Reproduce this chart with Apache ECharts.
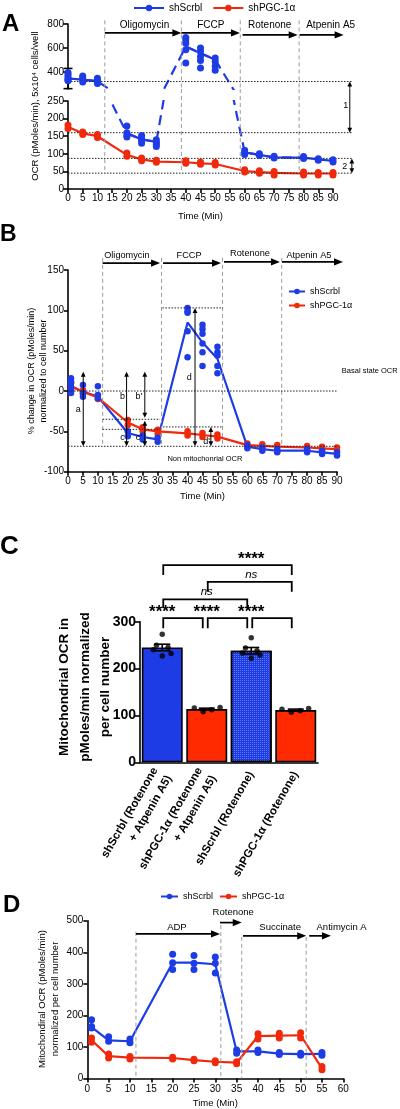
<!DOCTYPE html>
<html><head><meta charset="utf-8">
<script src="https://cdn.jsdelivr.net/npm/echarts@6/dist/echarts.min.js"></script>
<style>html,body{margin:0;padding:0;background:#fff}#c{width:400px;height:1109px}</style>
</head><body><div id="c"></div>
<script>
const FONT = '"Liberation Sans", Arial, Helvetica, sans-serif';
const BLUE = '#1d3ce6';
const RED = '#f0290d';
const NAMES = ['shScrbl', 'shPGC-1α'];

// ---------- Panel A : raw OCR (broken axis) ----------
const timesA = [0,5,10,20,25,30,40,45,50,60,65,70,80,85,90];
const blueA  = [347,338,325,158,141,134,613,558,503,104,97,90,89,84,80];
const redA   = [177,158,150,97,84,78,76,73,71,51,48,46,44,44,44];
const blueRepA = [[398,380,362,345,335,328],[368,352,338,318],[350,332,318,305],[179,160,152,148],[152,145,138,130],[140,133,127,121],[687,668,641,586,476],[600,572,530,497,435],[517,489,448,415],[110,102,98],[100,95],[93,88],[92,87],[86,82],[83,77]];
const redRepA  = [[182,172],[162,155],[155,146],[102,93],[88,80],[82,76],[80,73],[77,70],[75,68],[55,48],[52,45],[50,40],[48,40],[47,40],[47,40]];
const blueErrA0 = [263, 431];          // error bar of first blue point (t = 0)
const A_TOP_MIN = 260, A_TOP_MAX = 800, A_BOT_MAX = 250;
const ticksAtop = [400, 600, 800];

// ---------- Panel B : % change ----------
const timesB = [1,5,10,20,25,30,40,45,50,60,65,70,80,85,90];
const blueB  = [6,-1,-7,-52,-57,-60,85,60,40,-69,-72,-74,-74,-76,-78];
const redB   = [6,-1,-8,-39,-47.5,-50,-52.5,-54.5,-56.5,-67,-68,-69,-70,-71,-72];
const blueRepB = [[15.7,12,10,5,1,-2.5],[7.5,-2.5,-7],[6,-5,-9],[-50,-56],[-55,-60],[-58,-63],[103,99,97,74,42],[82,77,71,59,48,31],[55,48,44,31,22],[-67,-71],[-70,-74],[-72,-76],[-72,-76],[-74,-78],[-76,-80]];
const redRepB  = [[10,3],[1,-3],[-6,-10],[-36,-42],[-45,-50],[-48,-53],[-50,-55],[-52,-57],[-54,-59],[-65,-69],[-66,-70],[-67,-75],[-68,-72],[-69,-73],[-70,-74]];

// ---------- Panel C : bars ----------
const catsC  = ['shScrbl (Rotenone\n+ Atpenin A5)', 'shPGC-1α (Rotenone\n+ Atpenin A5)', 'shScrbl (Rotenone)', 'shPGC-1α (Rotenone)'];
const meansC = [245, 113.5, 238, 111.5];
const semC   = [7, 2, 7, 2];
const ptsC   = [[273,250,245,240,232,227],[116,108,112,117],[266,244,238,233,229,222],[113,107,110,115]];
const jitC   = [[0,-0.13,0.13,-0.2,0.2,0],[-0.28,-0.08,0.11,0.3],[0,-0.13,0.13,-0.2,0.2,0],[-0.31,-0.1,0.1,0.29]];
const sigC   = [[0,1,'****'],[1,2,'****'],[2,3,'****'],[0,2,'ns'],[1,3,'ns'],[0,3,'****']];

// ---------- Panel D ----------
const timesD = [1,5,10,20,25,30,35,40,45,50,55];
const blueD  = [163,121,118,367,367,362,86,86,79,77,78];
const redD   = [121,71,66,65,58,53,50,134,136,137,32];
const blueRepD = [[186,165,160],[132,118],[125,113],[394,367,345],[390,365,345],[385,365,334],[90,80],[90,82],[82,76],[80,74],[82,74]];
const redRepD  = [[128,115],[78,65],[70,62],[67,62],[61,56],[56,50],[53,47],[142,125],[143,128],[145,128],[38,28]];

// ---------- helpers ----------
const pairs = (ts, vs, f) => ts.map((t, i) => [t, f ? f(vs[i]) : vs[i]]);
const reps = (ts, rs, f) => ts.flatMap((t, i) => rs[i].filter(v => !f || f(v)).map(v => [t, v]));

function headPoly(tip, ux, uy, L, W) {
  const px = -uy, py = ux;
  return {type:'polygon', shape:{points:[[tip[0],tip[1]],[tip[0]-ux*L+px*W, tip[1]-uy*L+py*W],[tip[0]-ux*L-px*W, tip[1]-uy*L-py*W]]}, style:{fill:'#000'}};
}
function renderAnn(items, api) {
  const ch = [];
  items.forEach(it => {
    const k = it[0];
    if (k === 'vd') {
      const a = api.coord([it[1], it[2]]), b = api.coord([it[1], it[3]]);
      ch.push({type:'line', shape:{x1:a[0],y1:a[1],x2:b[0],y2:b[1]}, style:{stroke:'#9c9c9c', lineWidth:1, lineDash:[4,3]}});
    } else if (k === 'hd') {
      const a = api.coord([it[2], it[1]]), b = api.coord([it[3], it[1]]);
      ch.push({type:'line', shape:{x1:a[0],y1:a[1],x2:b[0],y2:b[1]}, style:{stroke:'#222', lineWidth:1, lineDash:[1.5,1.5]}});
    } else if (k === 'ar') {
      const a = api.coord([it[1], it[2]]), b = api.coord([it[3], it[4]]);
      const big = it[6] !== 's';
      const L = big ? 9 : 5, W = big ? 3.6 : 2.4, lw = big ? 1.7 : 1;
      const dx = b[0]-a[0], dy = b[1]-a[1], len = Math.hypot(dx, dy), ux = dx/len, uy = dy/len;
      let s = a.slice(), e = b.slice();
      if (it[5] === 'e' || it[5] === 'b') { ch.push(headPoly(b, ux, uy, L, W)); e = [b[0]-ux*L*0.8, b[1]-uy*L*0.8]; }
      if (it[5] === 's' || it[5] === 'b') { ch.push(headPoly(a, -ux, -uy, L, W)); s = [a[0]+ux*L*0.8, a[1]+uy*L*0.8]; }
      ch.push({type:'line', shape:{x1:s[0],y1:s[1],x2:e[0],y2:e[1]}, style:{stroke:'#000', lineWidth:lw}});
    } else if (k === 'tx') {
      const p = api.coord([it[1], it[2]]);
      ch.push({type:'text', x:p[0], y:p[1], style:{text:it[3], fontSize:it[4], fontFamily:FONT, fill:'#000', align:it[5]||'center', verticalAlign:'middle', fontStyle:it[6]||'normal', fontWeight:it[7]||'normal'}});
    } else if (k === 'br') {
      const a1 = api.coord([it[1], it[4]]), a2 = api.coord([it[1], it[3]]), b2 = api.coord([it[2], it[3]]), b1 = api.coord([it[2], it[4]]);
      ch.push({type:'polyline', shape:{points:[[a1[0]+1,a1[1]],[a2[0]+1,a2[1]],[b2[0]-4,b2[1]],[b1[0]-4,b1[1]]]}, style:{stroke:'#000', lineWidth:1.8, fill:null}});
    } else if (k === 'eb') {
      const lo = api.coord([it[1], it[2]]), hi = api.coord([it[1], it[3]]), c = it[4], col = it[5] || '#000';
      ch.push({type:'line', shape:{x1:lo[0],y1:lo[1],x2:hi[0],y2:hi[1]}, style:{stroke:col, lineWidth:1.6}});
      ch.push({type:'line', shape:{x1:lo[0]-c,y1:lo[1],x2:lo[0]+c,y2:lo[1]}, style:{stroke:col, lineWidth:1.6}});
      ch.push({type:'line', shape:{x1:hi[0]-c,y1:hi[1],x2:hi[0]+c,y2:hi[1]}, style:{stroke:col, lineWidth:1.6}});
    }
  });
  return {type:'group', children: ch};
}
function annSeries(xi, yi, items, z) {
  return {type:'custom', xAxisIndex:xi, yAxisIndex:yi, silent:true, z:z||3, clip:false,
          data:[[0,0]], renderItem:(p, api) => renderAnn(items, api)};
}
function axisBase(fs, bold, margin, tickLen) {
  return {
    axisLine:{show:true, onZero:false, lineStyle:{color:'#000', width:1.6}},
    axisTick:{show:true, length:tickLen||4, lineStyle:{color:'#000', width:1.6}},
    axisLabel:{color:'#000', fontSize:fs, fontWeight:bold?'bold':'normal', margin:margin, fontFamily:FONT},
    splitLine:{show:false}
  };
}
function timeAxis(grid, max, nameGap, margin) {
  const b = axisBase(10, false, margin, 4);
  return Object.assign({gridIndex:grid, type:'value', min:0, max:max, interval:5,
    name:'Time (Min)', nameLocation:'middle', nameGap:nameGap,
    nameTextStyle:{color:'#000', fontSize:9.5, fontFamily:FONT}}, b);
}
function lineS(name, xi, yi, data, color, extra) {
  return Object.assign({type:'line', name:name, xAxisIndex:xi, yAxisIndex:yi, data:data,
    symbol:'circle', symbolSize:7, showSymbol:false, color:color,
    lineStyle:{color:color, width:2.2}, itemStyle:{color:color}, z:2, silent:true}, extra||{});
}
function ptsS(xi, yi, data, color, size) {
  return {type:'scatter', name:'_pts', xAxisIndex:xi, yAxisIndex:yi, data:data, symbol:'circle',
    symbolSize:size||7, itemStyle:{color:color, opacity:1}, z:4, silent:true};
}

// ---------- annotations (in data units of each panel) ----------
const drugA = [12.5, 38.5, 58.5, 78.5];
const annAtop = [
  ...drugA.map(x => ['vd', x, 830, A_TOP_MIN]),
  ['hd', 322, 0, 96.4],
  ['ar', 12.5, 726, 38.5, 726, 'e'], ['ar', 38.5, 726, 58.4, 726, 'e'],
  ['ar', 59.3, 709, 78.0, 709, 'e'], ['ar', 78.7, 709, 93.6, 709, 'e'],
  ['tx', 26, 792, 'Oligomycin', 10], ['tx', 48.5, 792, 'FCCP', 10],
  ['tx', 68.5, 792, 'Rotenone', 10], ['tx', 89.2, 792, 'Atpenin A5', 10],
  ['ar', 95.7, 262, 95.7, 322, 'e', 's'],
  ['eb', 0, blueErrA0[0], blueErrA0[1], 4.5, '#000']
];
const annAbot = [
  ...drugA.map(x => ['vd', x, 284, 45]),
  ['hd', 160, 0, 96.4], ['hd', 87, 0, 96.4], ['hd', 45, 0, 96.4],
  ['ar', 95.7, 284, 95.7, 160, 'e', 's'],
  ['ar', 96.4, 87, 96.4, 45, 'b', 's'],
  ['tx', 94.3, 236, '1', 9], ['tx', 94.0, 62.5, '2', 9]
];
const annB = [
  ...[11.6, 31.3, 51.7, 71.5].map(x => ['vd', x, 165, -68.5]),
  ['ar', 11.6, 158.6, 30.8, 158.6, 'e'], ['ar', 31.8, 158.6, 51.2, 158.6, 'e'],
  ['ar', 52.2, 160, 70.9, 160, 'e'], ['ar', 71.6, 160, 92, 160, 'e'],
  ['tx', 19.7, 168.5, 'Oligomycin', 9.2], ['tx', 40.5, 168.5, 'FCCP', 9.2],
  ['tx', 60.9, 171, 'Rotenone', 9.2], ['tx', 80.6, 168.5, 'Atpenin A5', 9.2],
  ['hd', 0, 0, 90], ['hd', -68.5, 0, 90], ['hd', 103, 31.6, 51.9],
  ['hd', -35, 11.6, 30.8], ['hd', -47.5, 11.6, 30.8], ['hd', -44.5, 31.8, 51.9],
  ['ar', 5.1, 24, 5.1, -68.5, 'b', 's'],
  ['ar', 19.6, 24, 19.6, -68.5, 'b', 's'],
  ['ar', 25.7, 24, 25.7, -33, 'b', 's'],
  ['ar', 25.7, -37, 25.7, -68.5, 'b', 's'],
  ['ar', 42.5, 103, 42.5, -68.5, 'b', 's'],
  ['ar', 47.8, -44.5, 47.8, -68.5, 'b', 's'],
  ['tx', 3.4, -23.5, 'a', 9], ['tx', 18.2, -7, 'b', 9], ['tx', 23.7, -7, "b'", 9],
  ['tx', 18.2, -57.4, 'c', 9], ['tx', 23.7, -57.4, "c'", 9],
  ['tx', 40.6, 16.5, 'd', 9], ['tx', 46.4, -62.8, "d'", 9],
  ['tx', 91.6, 25, 'Basal state OCR', 7.5, 'left'],
  ['tx', 45.8, -84, 'Non mitochonrial OCR', 7.5]
];
const annC = [
  [0,1,307.7,286,0.47,321], [1,2,307.7,286,1.41,321], [2,3,307.7,286,2.42,321],
  [0,2,347.5,329,0.85,364], [1,3,385,364,2.04,399.4], [0,3,420.7,399.4,1.52,435.6]
].flatMap((b, k) => [
  ['br', b[0], b[1], b[2], b[3]],
  sigC[k][2] === 'ns' ? ['tx', b[4], b[5], 'ns', 11.5, 'center', 'italic'] : ['tx', b[4], b[5]-2, sigC[k][2], 17, 'center', 'normal', 'bold']
]);
const errC = meansC.map((m, i) => ['eb', i, m - semC[i], m + semC[i], 8, '#000']);
const annD = [
  ['vd', 11.4, 465, 0], ['vd', 31.3, 486, 0], ['vd', 36.2, 449, 0], ['vd', 51.3, 449, 0],
  ['ar', 11.4, 458, 31.1, 458, 'e'], ['ar', 31.1, 494, 36.2, 494, 'e'],
  ['ar', 36.5, 452, 51.3, 452, 'e'], ['ar', 52.0, 452, 57.1, 452, 'e'],
  ['tx', 21, 479, 'ADP', 9.5], ['tx', 34.2, 525, 'Rotenone', 9.5],
  ['tx', 45.2, 479, 'Succinate', 9.5], ['tx', 59.6, 479, 'Antimycin A', 9.5]
];

const chart = echarts.init(document.getElementById('c'), null, {renderer:'canvas'});
const inTop = v => v >= A_TOP_MIN ? v : '-';
const inBot = v => v < A_TOP_MIN ? v : '-';

const option = {
  animation:false,
  backgroundColor:'#fff',
  textStyle:{fontFamily:FONT},
  legend:[
    {data:NAMES, top:-2, left:128, itemWidth:30, itemHeight:8, itemGap:10, textStyle:{fontSize:10, color:'#000'}},
    {data:NAMES, orient:'vertical', top:282, left:283, itemWidth:16, itemHeight:7, itemGap:5, textStyle:{fontSize:9, color:'#000'}},
    {data:NAMES, top:887, left:155, itemWidth:17, itemHeight:7, itemGap:6, textStyle:{fontSize:9, color:'#000'}}
  ],
  grid:[
    {left:68, top:24, width:265, height:65},
    {left:68, top:101, width:265, height:88},
    {left:68, top:270, width:269, height:201.7},
    {left:140, top:621.7, width:178, height:140.6},
    {left:87.3, top:920.7, width:256, height:158.3}
  ],
  xAxis:[
    {gridIndex:0, type:'value', min:0, max:90, show:false},
    timeAxis(1, 90, 22, 4),
    timeAxis(2, 90, 20, 5),
    Object.assign({gridIndex:3, type:'category', data:catsC}, axisBase(11.5, true, 10, 4),
      {axisTick:{show:false}, axisLabel:{rotate:60, interval:0, color:'#000', fontSize:11.5, fontWeight:'bold', lineHeight:16, margin:10, fontFamily:FONT}}),
    {gridIndex:3, type:'value', min:-0.5, max:3.5, show:false},
    timeAxis(4, 60, 19.5, 6)
  ],
  yAxis:[
    Object.assign({gridIndex:0, type:'value', min:A_TOP_MIN, max:A_TOP_MAX}, axisBase(10, false, 4, 5),
      {axisTick:{show:true, length:5, customValues:ticksAtop, lineStyle:{color:'#000', width:1.6}},
       axisLabel:{color:'#000', fontSize:10, margin:4, customValues:ticksAtop, fontFamily:FONT}}),
    Object.assign({gridIndex:1, type:'value', min:0, max:A_BOT_MAX, interval:50}, axisBase(10, false, 4, 5)),
    Object.assign({gridIndex:2, type:'value', min:-100, max:150, interval:50}, axisBase(10, false, 4, 4)),
    Object.assign({gridIndex:3, type:'value', min:0, max:300, interval:100}, axisBase(14, true, 4, 6)),
    Object.assign({gridIndex:4, type:'value', min:0, max:500, interval:100}, axisBase(10, false, 4, 4))
  ],
  graphic:[
    {type:'text', left:2, top:12, style:{text:'A', font:'bold 24px '+FONT, fill:'#000'}},
    {type:'text', left:0, top:223, style:{text:'B', font:'bold 23px '+FONT, fill:'#000'}},
    {type:'text', left:0, top:534, style:{text:'C', font:'bold 26px '+FONT, fill:'#000'}},
    {type:'text', left:3, top:893, style:{text:'D', font:'bold 24px '+FONT, fill:'#000'}},
    {type:'text', x:35, y:106, rotation:Math.PI/2, style:{text:'OCR (pMoles/min), 5x10⁴ cells/well', font:'9.5px '+FONT, fill:'#000', align:'center', verticalAlign:'middle'}},
    {type:'text', x:37.5, y:371, rotation:Math.PI/2, style:{text:'% change in OCR (pMoles/min)\nnormalized to cell number', font:'9px '+FONT, lineHeight:11.6, fill:'#000', align:'center', verticalAlign:'middle'}},
    {type:'text', x:85, y:687, rotation:Math.PI/2, style:{text:'Mitochondrial OCR in\npMoles/min normalized\nper cell number', font:'bold 13.5px '+FONT, lineHeight:20.5, fill:'#000', align:'center', verticalAlign:'middle'}},
    {type:'text', x:49, y:999, rotation:Math.PI/2, style:{text:'Mitochondiral OCR (pMoles/min)\nnormalized per cell number', font:'9.5px '+FONT, lineHeight:12.3, fill:'#000', align:'center', verticalAlign:'middle'}}
  ],
  series:[
    // Panel A
    lineS(NAMES[0], 0, 0, pairs(timesA, blueA, inTop), BLUE),
    lineS(NAMES[1], 1, 1, pairs(timesA, redA), RED),
    lineS(NAMES[0], 1, 1, pairs(timesA, blueA, inBot), BLUE),
    lineS('_dashA', 0, 0, pairs(timesA, blueA), BLUE, {lineStyle:{color:BLUE, width:2.2, type:[10,6]}}),
    lineS('_dashA', 1, 1, pairs(timesA, blueA), BLUE, {lineStyle:{color:BLUE, width:2.2, type:[10,6]}}),
    ptsS(0, 0, reps(timesA, blueRepA, v => v >= A_TOP_MIN), BLUE),
    ptsS(1, 1, reps(timesA, blueRepA, v => v < A_TOP_MIN), BLUE),
    ptsS(1, 1, reps(timesA, redRepA), RED),
    annSeries(0, 0, annAtop),
    annSeries(1, 1, annAbot),
    // Panel B
    lineS(NAMES[0], 2, 2, pairs(timesB, blueB), BLUE),
    lineS(NAMES[1], 2, 2, pairs(timesB, redB), RED),
    ptsS(2, 2, reps(timesB, redRepB), RED, 6.5),
    ptsS(2, 2, reps(timesB, blueRepB), BLUE, 6.5),
    annSeries(2, 2, annB, 5),
    // Panel C
    {type:'bar', name:'_barC', xAxisIndex:3, yAxisIndex:3, barWidth:'92%', silent:true, z:2,
     data: meansC.map((v, i) => ({value:v, itemStyle:{
       color: i % 2 === 0 ? BLUE : '#ff2a00', borderColor:'#000', borderWidth:1.6,
       decal: i === 2 ? {symbol:'rect', symbolSize:1, dashArrayX:[1,1], dashArrayY:[1,1], color:'rgba(150,170,255,0.55)'} : null}}))},
    annSeries(3, 3, errC, 3),
    {type:'scatter', name:'_ptsC', xAxisIndex:4, yAxisIndex:3, symbolSize:5.5, itemStyle:{color:'#000'}, z:4, silent:true,
     data: ptsC.flatMap((arr, i) => arr.map((v, k) => [i + jitC[i][k], v]))},
    annSeries(3, 3, annC, 5),
    // Panel D
    lineS(NAMES[0], 5, 4, pairs(timesD, blueD), BLUE),
    lineS(NAMES[1], 5, 4, pairs(timesD, redD), RED),
    ptsS(5, 4, reps(timesD, blueRepD), BLUE, 7),
    ptsS(5, 4, reps(timesD, redRepD), RED, 7),
    annSeries(5, 4, annD, 5)
  ]
};
chart.setOption(option);
</script></body></html>
